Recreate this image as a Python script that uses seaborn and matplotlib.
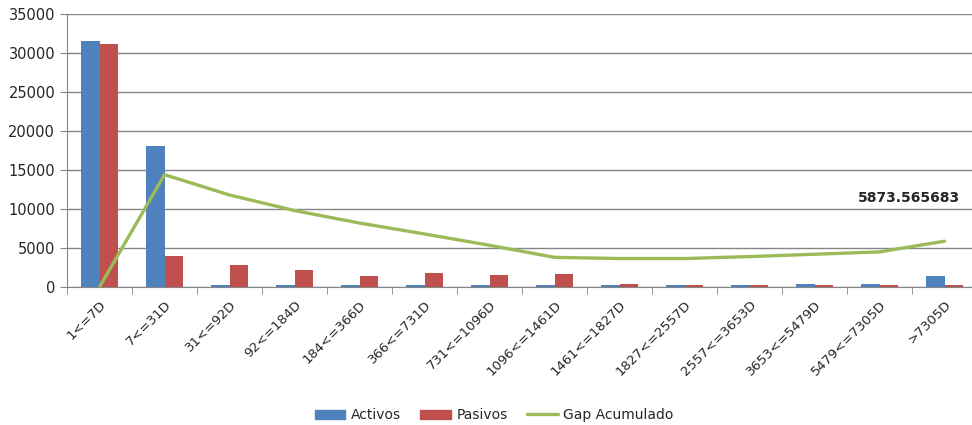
import matplotlib
matplotlib.use('Agg')
import matplotlib.pyplot as plt
import seaborn as sns
import pandas as pd
import numpy as np
from matplotlib.patches import Patch
from matplotlib.lines import Line2D

# datos
plazos = ['1<=7D', '7<=31D', '31<=92D', '92<=184D', '184<=366D', '366<=731D',
          '731<=1096D', '1096<=1461D', '1461<=1827D', '1827<=2557D',
          '2557<=3653D', '3653<=5479D', '5479<=7305D', '>7305D']
activos = [31500, 18050, 200, 200, 200, 200, 200, 200, 200, 200, 200, 400, 400, 1400]
pasivos = [31200, 4000, 2800, 2200, 1420, 1750, 1550, 1720, 380, 200, 200, 200, 200, 200]
gap_acumulado = [0, 14400, 11800, 9800, 8200, 6800, 5350, 3800, 3650, 3650, 3900, 4200, 4500, 5873.565683]

df = pd.DataFrame({
    'plazo': plazos * 2,
    'valor': activos + pasivos,
    'serie': ['Activos'] * len(plazos) + ['Pasivos'] * len(plazos),
})

sns.set_style('white')
plt.rcParams['font.family'] = ['DejaVu Sans']

fig = plt.figure(figsize=(9.72, 4.25), dpi=100)
ax = fig.add_axes([67 / 972, 1 - 287 / 425, 910 / 972, 273 / 425])

sns.barplot(data=df, x='plazo', y='valor', hue='serie', order=plazos,
            palette={'Activos': '#4F81BD', 'Pasivos': '#C0504D'},
            width=0.57, gap=0, saturation=1, linewidth=0, ax=ax, legend=False)
sns.lineplot(x=np.arange(len(plazos)), y=gap_acumulado, color='#9BBB59',
             linewidth=2.4, ax=ax, legend=False)

# etiqueta del ultimo punto
ax.annotate(f'{gap_acumulado[-1]:.6f}', xy=(13, gap_acumulado[-1]),
            xytext=(-87, 43), textcoords='offset pixels',
            ha='left', va='center', fontsize=10, fontweight='bold', annotation_clip=False)

ax.set_ylim(0, 35000)
ax.set_xlim(-0.5, 13.5)
ax.set_yticks(range(0, 35001, 5000))
ax.yaxis.grid(True, color='#868686', linewidth=1)
ax.set_axisbelow(True)
ax.set_xlabel('')
ax.set_ylabel('')

ax.set_xticks(np.arange(len(plazos)))
ax.set_xticklabels(plazos, rotation=45, ha='right', rotation_mode='anchor', fontsize=9.5)
ax.set_xticks(np.arange(-0.5, 14, 1), minor=True)
ax.tick_params(axis='x', which='major', length=0, pad=8)
ax.tick_params(axis='x', which='minor', length=5, color='#868686', bottom=True)
ax.tick_params(axis='y', length=5, color='#868686', labelsize=10.5, left=True)

for s in ['top', 'right']:
    ax.spines[s].set_visible(False)
for s in ['left', 'bottom']:
    ax.spines[s].set_color('#868686')

handles = [Patch(color='#4F81BD', label='Activos'),
           Patch(color='#C0504D', label='Pasivos'),
           Line2D([0], [0], color='#9BBB59', linewidth=2.4, label='Gap Acumulado')]
ax.legend(handles=handles, loc='center',
          bbox_to_anchor=((494 - 67) / 910, (287 - 415) / 273),
          ncol=3, frameon=False, fontsize=10, handlelength=2.2, handleheight=0.6,
          columnspacing=1.4, handletextpad=0.4)

plt.savefig('out.png', dpi=100)
